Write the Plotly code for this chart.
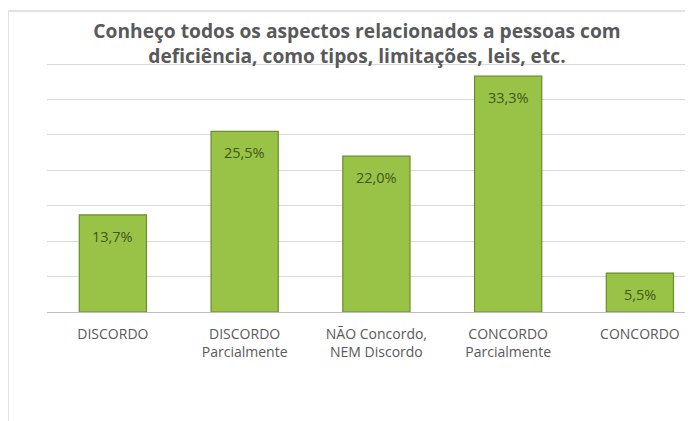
import plotly.graph_objects as go

categories = ["DISCORDO", "DISCORDO<br>Parcialmente", "NÃO Concordo,<br>NEM Discordo",
              "CONCORDO<br>Parcialmente", "CONCORDO"]
values = [13.7, 25.5, 22.0, 33.3, 5.5]
labels = ["13,7%", "25,5%", "22,0%", "33,3%", "5,5%"]
title_text = "Conheço todos os aspectos relacionados a pessoas com<br>deficiência, como tipos, limitações, leis, etc."

FONT = "Open Sans"
x_idx = list(range(len(categories)))

fig = go.Figure()
fig.add_trace(go.Bar(
    x=x_idx, y=values, width=0.51,
    marker=dict(color="#98c346", line=dict(color="#6b8c2c", width=1.2)),
    hoverinfo="skip",
))

for xi, v, t in zip(x_idx, values, labels):
    fig.add_annotation(x=xi, y=v, text=t, showarrow=False, yanchor="top", yshift=-10,
                       font=dict(family=FONT, size=14.5, color="#44561f"))

# page body has an 8px margin; figure sized/offset to compensate
fig.update_layout(
    width=685, height=413,
    margin=dict(l=39, r=0, t=49, b=109),
    paper_bgcolor="white", plot_bgcolor="white",
    showlegend=False,
    title=dict(text="<b>" + title_text + "</b>", x=(357 - 8) / 685, xanchor="center",
               y=1 - (38 - 8) / 413, yanchor="middle",
               font=dict(family=FONT, size=19.2, color="#595959")),
    xaxis=dict(tickmode="array", tickvals=x_idx, ticktext=categories,
               range=[-0.5, 4.403], showgrid=False, zeroline=False,
               showline=False, ticks="", ticklabelstandoff=12,
               tickfont=dict(family=FONT, size=14, color="#595959")),
    yaxis=dict(range=[0, 36], tickvals=[5, 10, 15, 20, 25, 30, 35], showgrid=True,
               gridcolor="#d9d9d9", gridwidth=1, zeroline=True, zerolinecolor="#bfbfbf",
               zerolinewidth=1.2, showticklabels=False, showline=False, ticks=""),
)

# chart outer border (left and top)
fig.add_shape(type="line", xref="paper", yref="paper",
              x0=-0.0604, x1=-0.0604, y0=-0.5, y1=1.1804,
              line=dict(color="#d9d9d9", width=1.5))
fig.add_shape(type="line", xref="paper", yref="paper",
              x0=-0.0604, x1=1.02, y0=1.1804, y1=1.1804,
              line=dict(color="#d9d9d9", width=1.5))

fig.write_html("out.html")
